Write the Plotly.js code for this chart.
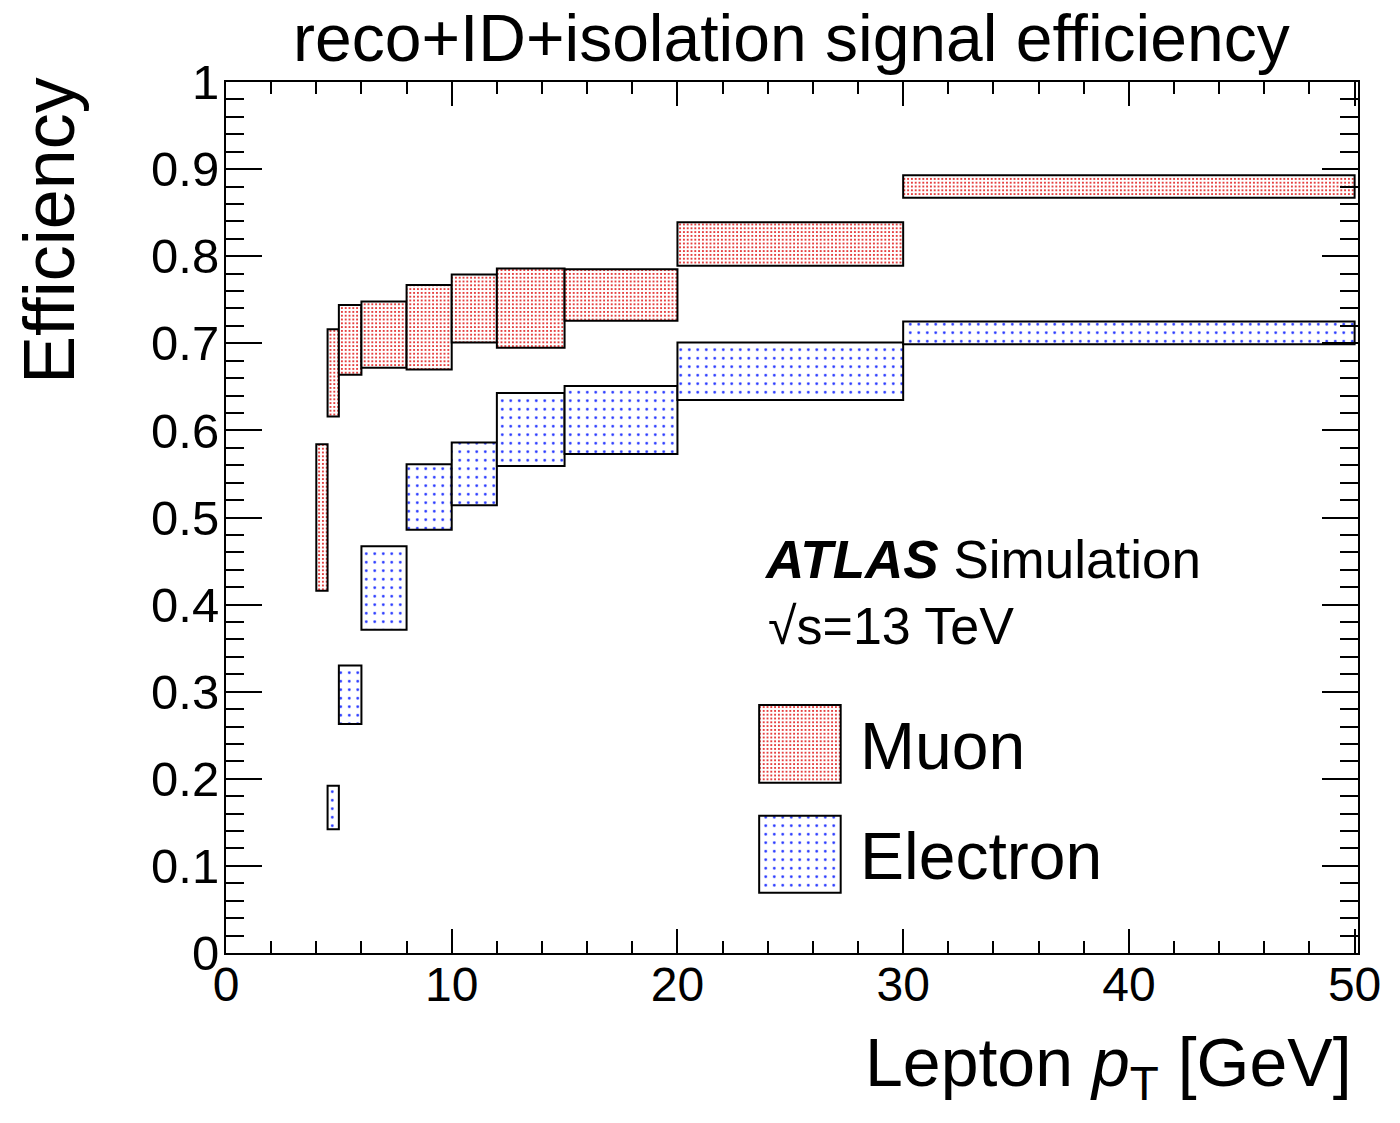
<!DOCTYPE html>
<html>
<head>
<meta charset="utf-8">
<script src="https://cdn.plot.ly/plotly-3.0.1.min.js"></script>
<style>html,body{margin:0;padding:0;background:#fff;}#chart{width:1400px;height:1123px;}</style>
</head>
<body>
<div id="chart"></div>
<script>
// ---- data ----
const muonBinLow  = [4, 4.5, 5, 6, 8, 10, 12, 15, 20, 30];
const muonBinHigh = [4.5, 5, 6, 8, 10, 12, 15, 20, 30, 50];
const muonEffLow  = [0.416, 0.616, 0.664, 0.672, 0.670, 0.701, 0.695, 0.726, 0.789, 0.867];
const muonEffHigh = [0.584, 0.716, 0.744, 0.748, 0.767, 0.779, 0.786, 0.785, 0.839, 0.893];

const elecBinLow  = [4.5, 5, 6, 8, 10, 12, 15, 20, 30];
const elecBinHigh = [5, 6, 8, 10, 12, 15, 20, 30, 50];
const elecEffLow  = [0.142, 0.263, 0.371, 0.486, 0.514, 0.559, 0.573, 0.635, 0.699];
const elecEffHigh = [0.192, 0.330, 0.467, 0.561, 0.586, 0.643, 0.651, 0.701, 0.725];

const seriesNames = ['Muon', 'Electron'];
const titleText = 'reco+ID+isolation signal efficiency';
const xTitleText = 'Lepton <i>p</i><sub>T</sub> [GeV]';
const yTitleText = 'Efficiency';
const labelAtlas = '<b><i>ATLAS</i></b> Simulation';
const labelEnergy = '√s=13 TeV';

// ---- styles ----
const FONT = 'Liberation Sans, Arial, Helvetica, sans-serif';
const muonPattern = {shape: '.', fgcolor: '#dd0000', bgcolor: '#ffffff', size: 3.8, solidity: 0.2, fillmode: 'replace'};
const elecPattern = {shape: '.', fgcolor: '#2233ff', bgcolor: '#ffffff', size: 8.5, solidity: 0.08, fillmode: 'replace'};
const boxLine = {color: '#000000', width: 2};

function boxTrace(lo, hi, effLo, effHi, pattern, name) {
  return {
    type: 'bar',
    name: name,
    x: lo.map((v, i) => (v + hi[i]) / 2),
    width: lo.map((v, i) => hi[i] - v),
    base: effLo,
    y: effLo.map((v, i) => effHi[i] - v),
    marker: {color: '#ffffff', pattern: pattern, line: boxLine},
    showlegend: false,
    hoverinfo: 'skip'
  };
}

// legend keys drawn on a hidden overlay axis (fraction of plot area)
const legendKeyCenter = [0.507, 0.507];
const legendKeyWidth = [0.072, 0.072];
const legendKeyBase = [0.1955, 0.0692];
const legendKeyHeight = [0.0892, 0.0884];

function keyTrace(i, pattern) {
  return {
    type: 'bar', xaxis: 'x2', yaxis: 'y2',
    x: [legendKeyCenter[i]], width: [legendKeyWidth[i]],
    base: [legendKeyBase[i]], y: [legendKeyHeight[i]],
    marker: {color: '#ffffff', pattern: pattern, line: boxLine},
    showlegend: false, hoverinfo: 'skip'
  };
}

const traces = [
  boxTrace(muonBinLow, muonBinHigh, muonEffLow, muonEffHigh, muonPattern, seriesNames[0]),
  boxTrace(elecBinLow, elecBinHigh, elecEffLow, elecEffHigh, elecPattern, seriesNames[1]),
  keyTrace(0, muonPattern),
  keyTrace(1, elecPattern)
];

// pixel helpers for text placement (plot area: x 226..1358, y 82..953)
const PX0 = 226, PW = 1132, PY0 = 953, PH = 871;
const px = v => (v - PX0) / PW;
const py = v => (PY0 - v) / PH;

const annotations = [
  {text: titleText, xref: 'paper', yref: 'paper', x: px(791), y: py(37.5), xanchor: 'center', yanchor: 'middle', showarrow: false, font: {family: FONT, size: 66, color: '#000'}},
  {text: yTitleText, xref: 'paper', yref: 'paper', x: px(49), y: py(231), xanchor: 'center', yanchor: 'middle', textangle: -90, showarrow: false, font: {family: FONT, size: 72, color: '#000'}},
  {text: xTitleText, xref: 'paper', yref: 'paper', x: px(1354), y: py(1067), xanchor: 'right', yanchor: 'middle', showarrow: false, font: {family: FONT, size: 68, color: '#000'}},
  {text: labelAtlas, xref: 'paper', yref: 'paper', x: px(762), y: py(559), xanchor: 'left', yanchor: 'middle', showarrow: false, font: {family: FONT, size: 53, color: '#000'}},
  {text: labelEnergy, xref: 'paper', yref: 'paper', x: px(766), y: py(626), xanchor: 'left', yanchor: 'middle', showarrow: false, font: {family: FONT, size: 52, color: '#000'}},
  {text: seriesNames[0], xref: 'paper', yref: 'paper', x: px(858), y: py(746), xanchor: 'left', yanchor: 'middle', showarrow: false, font: {family: FONT, size: 66, color: '#000'}},
  {text: seriesNames[1], xref: 'paper', yref: 'paper', x: px(858), y: py(856), xanchor: 'left', yanchor: 'middle', showarrow: false, font: {family: FONT, size: 66, color: '#000'}}
];

const layout = {
  width: 1400, height: 1123,
  margin: {l: 226, r: 42, t: 82, b: 170, pad: 0},
  paper_bgcolor: '#ffffff', plot_bgcolor: '#ffffff',
  barmode: 'overlay',
  showlegend: false,
  font: {family: FONT, color: '#000'},
  xaxis: {
    range: [0, 50.15], dtick: 10, tick0: 0,
    ticks: 'inside', ticklen: 24, tickwidth: 2, tickcolor: '#000',
    minor: {dtick: 2, ticks: 'inside', ticklen: 12, tickwidth: 2, tickcolor: '#000', showgrid: false},
    showline: true, linewidth: 2, linecolor: '#000', mirror: 'allticks',
    showgrid: false, zeroline: false,
    ticklabelstandoff: -12,
    tickfont: {family: FONT, size: 48, color: '#000'}
  },
  yaxis: {
    range: [0, 1], dtick: 0.1, tick0: 0,
    ticks: 'inside', ticklen: 36, tickwidth: 2, tickcolor: '#000',
    minor: {dtick: 0.02, ticks: 'inside', ticklen: 18, tickwidth: 2, tickcolor: '#000', showgrid: false},
    showline: true, linewidth: 2, linecolor: '#000', mirror: 'allticks',
    showgrid: false, zeroline: false,
    ticklabelstandoff: -5,
    tickfont: {family: FONT, size: 49, color: '#000'}
  },
  xaxis2: {overlaying: 'x', range: [0, 1], visible: false, fixedrange: true, anchor: 'y2'},
  yaxis2: {overlaying: 'y', range: [0, 1], visible: false, fixedrange: true, anchor: 'x2'},
  annotations: annotations
};

Plotly.newPlot('chart', traces, layout, {staticPlot: true, displayModeBar: false});
</script>
</body>
</html>
